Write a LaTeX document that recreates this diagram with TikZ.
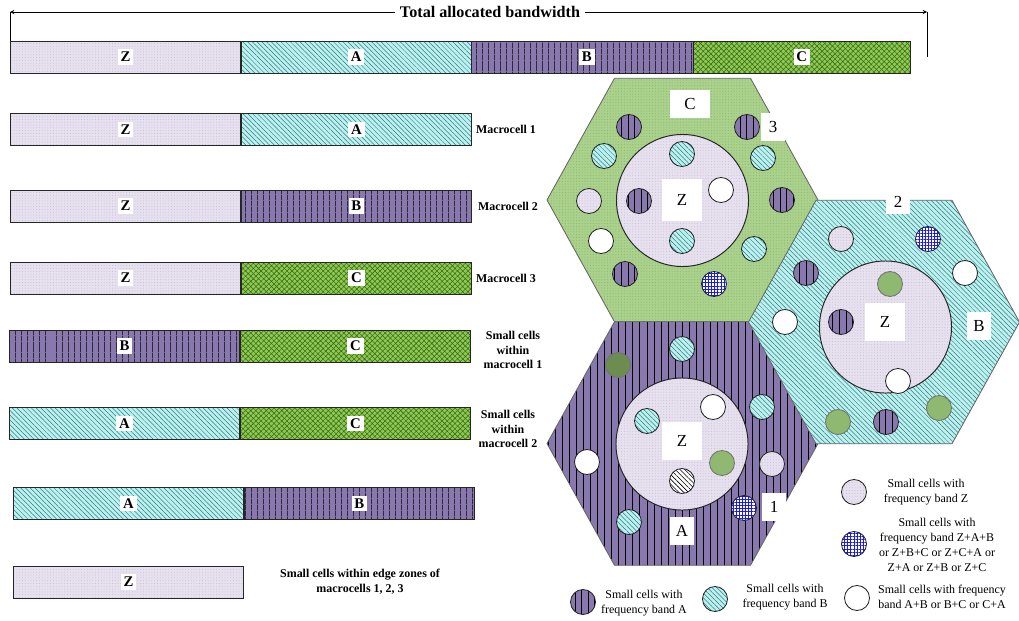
\documentclass[tikz,border=0pt]{standalone}
\usepackage{fontspec}
\setmainfont{Liberation Serif}
\usetikzlibrary{positioning,patterns.meta}

\definecolor{lav}{HTML}{E7E1EF}
\definecolor{lavdot}{HTML}{C6BCD6}
\definecolor{aqua}{HTML}{BAF2F2}
\definecolor{aqualine}{HTML}{3B7676}
\definecolor{plum}{HTML}{8878AE}
\definecolor{lime}{HTML}{8ECC50}
\definecolor{limeline}{HTML}{3E6A1E}
\definecolor{sage}{HTML}{AAD28C}
\definecolor{sagedot}{HTML}{8DB96E}
\definecolor{moss}{HTML}{8FB870}
\definecolor{darkmoss}{HTML}{6C8C50}
\definecolor{mesh}{HTML}{1C1CE8}

\newcommand{\bandtag}[1]{{\setlength{\fboxsep}{2pt}\colorbox{white}{#1}}}

\tikzset{
  lavfill/.style={preaction={fill=lav}, pattern={Dots[distance=2pt,radius=0.35pt]}, pattern color=lavdot},
  aquafill/.style={preaction={fill=aqua}, pattern={Lines[angle=-45,distance=2.4pt,line width=0.35pt]}, pattern color=aqualine},
  plumfill/.style={preaction={fill=plum}, pattern={Lines[angle=90,distance=#1,line width=0.5pt]}, pattern color=black},
  plumfill/.default=4pt,
  limefill/.style={preaction={fill=lime}, pattern={Hatch[angle=45,distance=2.6pt,line width=0.4pt]}, pattern color=limeline},
  sagefill/.style={preaction={fill=sage}, pattern={Dots[distance=2pt,radius=0.4pt]}, pattern color=sagedot}
}

\begin{document}
\begin{tikzpicture}[x=0.025cm, y=-0.025cm, >=stealth,
  seg/.style={draw=black!85, line width=0.6pt, minimum width=5.75cm, minimum height=0.8cm, inner sep=0pt, anchor=west, font=\bfseries\fontsize{10.5}{12}\selectfont},
  lab/.style={font=\bfseries\fontsize{8.5}{10.5}\selectfont, align=center},
  key/.style={font=\fontsize{8.5}{10.5}\selectfont, align=center},
  hex/.style={draw=black!60, line width=0.6pt},
  zone/.style={circle, draw=black!85, line width=0.7pt, minimum size=3.3cm, inner sep=0pt, lavfill},
  hexlabel/.style={fill=white, font=\fontsize{12}{14}\selectfont, minimum width=0.6cm, minimum height=0.7cm, inner sep=0pt},
  bigtag/.style={hexlabel, minimum width=1cm, minimum height=1.05cm},
  cell/.style={circle, draw=black!85, line width=0.6pt, minimum size=0.625cm, inner sep=0pt},
  cellZ/.style={cell, lavfill},
  cellA/.style={cell, plumfill=4.7pt},
  cellB/.style={cell, aquafill},
  cellW/.style={cell, fill=white},
  cellX/.style={cell, preaction={fill=white}, pattern={Hatch[angle=0,distance=2.2pt,line width=0.45pt]}, pattern color=mesh},
  cellG/.style={cell, draw=black!55, fill=moss},
  cellD/.style={cell, draw=black!55, fill=darkmoss},
  cellH/.style={cell, preaction={fill=white}, pattern={Lines[angle=-45,distance=2.4pt,line width=0.4pt]}, pattern color=black}]

  \useasboundingbox (0,0) rectangle (1019,620);

  % total bandwidth arrow
  \node[font=\bfseries\fontsize{11.5}{13}\selectfont] (title) at (490,12) {Total allocated bandwidth};
  \coordinate (tl) at (10,12);
  \coordinate (tr) at (927,12);
  \draw[->] (title) -- (tl);
  \draw[->] (title) -- (tr);
  \draw (tl) -- ++(0,41);
  \draw (tr) -- ++(0,45);

  % bands
  \node[seg, lavfill] (r0z) at (10,57) {\bandtag{Z}};
  \node[seg, aquafill] (r0a) [right=0pt of r0z] {\bandtag{A}};
  \node[seg, plumfill] (r0b) [right=0pt of r0a] {\bandtag{B}};
  \node[seg, limefill, minimum width=5.425cm] (r0c) at (693,57) {\bandtag{C}};

  \node[seg, lavfill] (r1z) at (10,129.5) {\bandtag{Z}};
  \node[seg, aquafill] (r1a) [right=0pt of r1z] {\bandtag{A}};
  \node[lab] (m1) at (506,129.5) {Macrocell 1};

  \node[seg, lavfill] (r2z) at (10,206) {\bandtag{Z}};
  \node[seg, plumfill] (r2b) [right=0pt of r2z] {\bandtag{B}};
  \node[lab] (m2) at (508,206) {Macrocell 2};

  \node[seg, lavfill] (r3z) at (10,278) {\bandtag{Z}};
  \node[seg, limefill] (r3c) [right=0pt of r3z] {\bandtag{C}};
  \node[lab] (m3) at (506,278) {Macrocell 3};

  \node[seg, plumfill] (r4b) at (9,346) {\bandtag{B}};
  \node[seg, limefill] (r4c) [right=0pt of r4b] {\bandtag{C}};
  \node[lab] (s1) at (513,350) {Small cells\\within\\macrocell 1};

  \node[seg, aquafill] (r5a) at (9,423.5) {\bandtag{A}};
  \node[seg, limefill] (r5c) [right=0pt of r5a] {\bandtag{C}};
  \node[lab] (s2) at (508,429) {Small cells\\within\\macrocell 2};

  \node[seg, aquafill] (r6a) at (13,503.5) {\bandtag{A}};
  \node[seg, plumfill] (r6b) [right=0pt of r6a] {\bandtag{B}};

  \node[seg, lavfill] (r7z) at (13,582) {\bandtag{Z}};
  \node[lab] (se) at (360,582) {Small cells within edge zones of\\macrocells 1, 2, 3};

  % macrocells
  \coordinate (h3) at (682.5,200);
  \coordinate (h1) at (682.5,443.5);
  \coordinate (h2) at (884,322);
  \path[hex, sagefill] (h3) ++(-135.5,0) -- ++(67.5,-121.75) -- ++(136,0) -- ++(67.5,121.75) -- ++(-67.5,121.75) -- ++(-136,0) -- cycle;
  \path[hex, plumfill=5pt] (h1) ++(-135.5,0) -- ++(67.5,-121.75) -- ++(136,0) -- ++(67.5,121.75) -- ++(-67.5,121.75) -- ++(-136,0) -- cycle;
  \path[hex, aquafill] (h2) ++(-135.5,0) -- ++(67.5,-121.75) -- ++(136,0) -- ++(67.5,121.75) -- ++(-67.5,121.75) -- ++(-136,0) -- cycle;

  \node[zone] (z3) at (682.5,200.5) {};
  \node[zone] (z2) at (885.5,327) {};
  \node[zone] (z1) at (682,444) {};

  % small cells, macrocell 3
  \node[cellA] (c3a1) at (629,127) {};
  \node[cellA] (c3a2) at (747,127) {};
  \node[cellB] (c3b1) at (604,156) {};
  \node[cellB] (c3b2) at (682,154) {};
  \node[cellB] (c3b3) at (763,158) {};
  \node[cellZ] (c3z1) at (589,201) {};
  \node[cellA] (c3a3) at (639,201) {};
  \node[cellW] (c3w1) at (721,190) {};
  \node[cellA] (c3a4) at (782,200) {};
  \node[cellW] (c3w2) at (601,241) {};
  \node[cellB] (c3b4) at (682,241) {};
  \node[cellB] (c3b5) at (754,249) {};
  \node[cellA] (c3a5) at (625,274) {};
  \node[cellX] (c3x1) at (714,284) {};

  % small cells, macrocell 2
  \node[cellZ] (c2z1) at (841,239) {};
  \node[cellX] (c2x1) at (928,239) {};
  \node[cellA] (c2a1) at (806,273) {};
  \node[cellW] (c2w1) at (965,273) {};
  \node[cellG] (c2g1) at (890,284) {};
  \node[cellW] (c2w2) at (785,322) {};
  \node[cellA] (c2a2) at (841,322) {};
  \node[cellW] (c2w3) at (898,381) {};
  \node[cellG] (c2g2) at (838,422) {};
  \node[cellA] (c2a3) at (886,422) {};
  \node[cellG] (c2g3) at (939,408) {};

  % small cells, macrocell 1
  \node[cellB] (c1b1) at (682,349) {};
  \node[cellD] (c1d1) at (618,365) {};
  \node[cellW] (c1w1) at (713,407) {};
  \node[cellB] (c1b2) at (762,407) {};
  \node[cellB] (c1b3) at (647,421) {};
  \node[cellW] (c1w2) at (587,462) {};
  \node[cellG] (c1g1) at (722,463) {};
  \node[cellZ] (c1z1) at (772,464) {};
  \node[cellH] (c1h1) at (682,481) {};
  \node[cellX] (c1x1) at (744,508) {};
  \node[cellB] (c1b4) at (629,522) {};

  % cell labels
  \node[hexlabel, minimum width=1cm] (l3c) at (690,104) {C};
  \node[hexlabel] (l3n) at (773,127) {3};
  \node[bigtag] (l3z) at (682,200) {Z};
  \node[hexlabel, minimum height=0.62cm] (l2n) at (898,202) {2};
  \node[hexlabel] (l2b) at (979,326) {B};
  \node[bigtag, minimum height=0.95cm] (l2z) at (885,322) {Z};
  \node[bigtag, minimum height=0.95cm] (l1z) at (682,441) {Z};
  \node[hexlabel] (l1a) at (682,531) {A};
  \node[hexlabel] (l1n) at (774,507) {1};

  % legend
  \node[cellZ] (k1) at (854,492) {};
  \node[key] (k1t) at (926,492) {Small cells with\\frequency band Z};
  \node[cellX] (k2) at (854,544) {};
  \node[key] (k2t) at (937,545) {Small cells with\\frequency band Z+A+B\\or Z+B+C or Z+C+A or\\Z+A or Z+B or Z+C};
  \node[cellA] (k3) at (583,602) {};
  \node[key] (k3t) at (644,603) {Small cells with\\frequency band A};
  \node[cellB] (k4) at (715,599) {};
  \node[key] (k4t) at (785,597) {Small cells with\\frequency band B};
  \node[cellW] (k5) at (857,598) {};
  \node[key] (k5t) at (942,597) {Small cells with frequency\\band A+B or B+C or C+A};
\end{tikzpicture}
\end{document}
